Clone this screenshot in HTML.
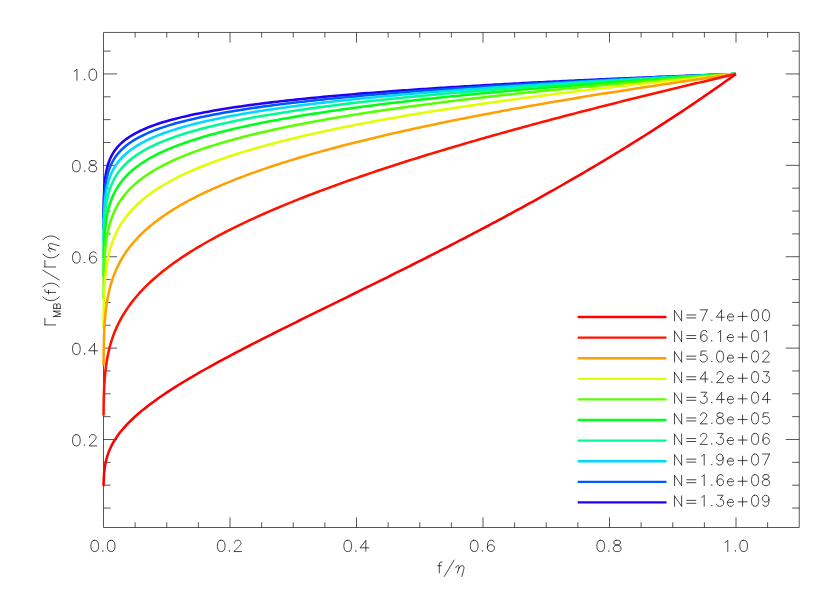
<!DOCTYPE html>
<html><head><meta charset="utf-8"><title>plot</title>
<style>html,body{margin:0;padding:0;background:#fff;font-family:"Liberation Sans",sans-serif;}svg{display:block}</style></head>
<body>
<svg width="830" height="593" viewBox="0 0 830 593">
<rect width="830" height="593" fill="#fff"/>
<path d="M103.50,32.45 H799.25 V527.50 H103.50 Z M135.12,527.50 v-5.20 M135.12,32.45 v5.20 M166.75,527.50 v-5.20 M166.75,32.45 v5.20 M198.38,527.50 v-5.20 M198.38,32.45 v5.20 M230.00,527.50 v-10.10 M230.00,32.45 v10.10 M261.62,527.50 v-5.20 M261.62,32.45 v5.20 M293.25,527.50 v-5.20 M293.25,32.45 v5.20 M324.88,527.50 v-5.20 M324.88,32.45 v5.20 M356.50,527.50 v-10.10 M356.50,32.45 v10.10 M388.12,527.50 v-5.20 M388.12,32.45 v5.20 M419.75,527.50 v-5.20 M419.75,32.45 v5.20 M451.38,527.50 v-5.20 M451.38,32.45 v5.20 M483.00,527.50 v-10.10 M483.00,32.45 v10.10 M514.62,527.50 v-5.20 M514.62,32.45 v5.20 M546.25,527.50 v-5.20 M546.25,32.45 v5.20 M577.88,527.50 v-5.20 M577.88,32.45 v5.20 M609.50,527.50 v-10.10 M609.50,32.45 v10.10 M641.12,527.50 v-5.20 M641.12,32.45 v5.20 M672.75,527.50 v-5.20 M672.75,32.45 v5.20 M704.38,527.50 v-5.20 M704.38,32.45 v5.20 M736.00,527.50 v-10.10 M736.00,32.45 v10.10 M767.62,527.50 v-5.20 M767.62,32.45 v5.20 M103.50,508.04 h7.10 M799.25,508.04 h-7.10 M103.50,485.20 h7.10 M799.25,485.20 h-7.10 M103.50,462.35 h7.10 M799.25,462.35 h-7.10 M103.50,439.50 h13.55 M799.25,439.50 h-13.55 M103.50,416.65 h7.10 M799.25,416.65 h-7.10 M103.50,393.81 h7.10 M799.25,393.81 h-7.10 M103.50,370.96 h7.10 M799.25,370.96 h-7.10 M103.50,348.11 h13.55 M799.25,348.11 h-13.55 M103.50,325.27 h7.10 M799.25,325.27 h-7.10 M103.50,302.42 h7.10 M799.25,302.42 h-7.10 M103.50,279.57 h7.10 M799.25,279.57 h-7.10 M103.50,256.73 h13.55 M799.25,256.73 h-13.55 M103.50,233.88 h7.10 M799.25,233.88 h-7.10 M103.50,211.03 h7.10 M799.25,211.03 h-7.10 M103.50,188.19 h7.10 M799.25,188.19 h-7.10 M103.50,165.34 h13.55 M799.25,165.34 h-13.55 M103.50,142.49 h7.10 M799.25,142.49 h-7.10 M103.50,119.64 h7.10 M799.25,119.64 h-7.10 M103.50,96.80 h7.10 M799.25,96.80 h-7.10 M103.50,73.95 h13.55 M799.25,73.95 h-13.55 M103.50,51.10 h7.10 M799.25,51.10 h-7.10" fill="none" stroke="#000" stroke-width="0.66" stroke-linecap="butt" stroke-linejoin="miter"/>
<path d="M94.18,540.31 L92.54,540.85 L91.44,542.45 L90.89,545.13 L90.89,546.73 L91.44,549.41 L92.54,551.01 L94.18,551.55 L95.28,551.55 L96.92,551.01 L98.02,549.41 L98.57,546.73 L98.57,545.13 L98.02,542.45 L96.92,540.85 L95.28,540.31 L94.18,540.31 M102.95,550.67 L102.59,551.03 L102.95,551.40 L103.31,551.03 L102.95,550.67 M110.62,540.31 L108.98,540.85 L107.88,542.45 L107.33,545.13 L107.33,546.73 L107.88,549.41 L108.98,551.01 L110.62,551.55 L111.72,551.55 L113.36,551.01 L114.46,549.41 L115.01,546.73 L115.01,545.13 L114.46,542.45 L113.36,540.85 L111.72,540.31 L110.62,540.31 M220.68,540.31 L219.04,540.85 L217.94,542.45 L217.39,545.13 L217.39,546.73 L217.94,549.41 L219.04,551.01 L220.68,551.55 L221.78,551.55 L223.42,551.01 L224.52,549.41 L225.07,546.73 L225.07,545.13 L224.52,542.45 L223.42,540.85 L221.78,540.31 L220.68,540.31 M229.45,550.67 L229.09,551.03 L229.45,551.40 L229.81,551.03 L229.45,550.67 M234.38,542.99 L234.38,542.45 L234.93,541.38 L235.48,540.85 L236.57,540.31 L238.77,540.31 L239.86,540.85 L240.41,541.38 L240.96,542.45 L240.96,543.52 L240.41,544.59 L239.31,546.20 L233.83,551.55 L241.51,551.55 M347.18,540.31 L345.54,540.85 L344.44,542.45 L343.89,545.13 L343.89,546.73 L344.44,549.41 L345.54,551.01 L347.18,551.55 L348.28,551.55 L349.92,551.01 L351.02,549.41 L351.57,546.73 L351.57,545.13 L351.02,542.45 L349.92,540.85 L348.28,540.31 L347.18,540.31 M355.95,550.67 L355.59,551.03 L355.95,551.40 L356.31,551.03 L355.95,550.67 M365.81,540.64 L360.06,547.80 L368.83,547.80 M365.81,540.64 L365.81,551.34 M473.68,540.31 L472.04,540.85 L470.94,542.45 L470.39,545.13 L470.39,546.73 L470.94,549.41 L472.04,551.01 L473.68,551.55 L474.78,551.55 L476.42,551.01 L477.52,549.41 L478.07,546.73 L478.07,545.13 L477.52,542.45 L476.42,540.85 L474.78,540.31 L473.68,540.31 M482.45,550.67 L482.09,551.03 L482.45,551.40 L482.81,551.03 L482.45,550.67 M493.96,541.92 L493.41,540.85 L491.77,540.31 L490.67,540.31 L489.03,540.85 L487.93,542.45 L487.38,545.13 L487.38,547.80 L487.93,549.94 L489.03,551.01 L490.67,551.55 L491.22,551.55 L492.86,551.01 L493.96,549.94 L494.51,548.34 L494.51,547.80 L493.96,546.20 L492.86,545.13 L491.22,544.59 L490.67,544.59 L489.03,545.13 L487.93,546.20 L487.38,547.80 M600.18,540.31 L598.54,540.85 L597.44,542.45 L596.89,545.13 L596.89,546.73 L597.44,549.41 L598.54,551.01 L600.18,551.55 L601.28,551.55 L602.92,551.01 L604.02,549.41 L604.57,546.73 L604.57,545.13 L604.02,542.45 L602.92,540.85 L601.28,540.31 L600.18,540.31 M608.95,550.67 L608.59,551.03 L608.95,551.40 L609.31,551.03 L608.95,550.67 M616.07,540.31 L614.43,540.85 L613.88,541.92 L613.88,542.99 L614.43,544.06 L615.53,544.59 L617.72,545.13 L619.36,545.66 L620.46,546.73 L621.01,547.80 L621.01,549.41 L620.46,550.48 L619.91,551.01 L618.27,551.55 L616.07,551.55 L614.43,551.01 L613.88,550.48 L613.33,549.41 L613.33,547.80 L613.88,546.73 L614.98,545.66 L616.62,545.13 L618.81,544.59 L619.91,544.06 L620.46,542.99 L620.46,541.92 L619.91,540.85 L618.27,540.31 L616.07,540.31 M725.04,542.45 L726.13,541.92 L727.78,540.31 L727.78,551.55 M735.45,550.67 L735.09,551.03 L735.45,551.40 L735.81,551.03 L735.45,550.67 M743.12,540.31 L741.48,540.85 L740.38,542.45 L739.83,545.13 L739.83,546.73 L740.38,549.41 L741.48,551.01 L743.12,551.55 L744.22,551.55 L745.86,551.01 L746.96,549.41 L747.51,546.73 L747.51,545.13 L746.96,542.45 L745.86,540.85 L744.22,540.31 L743.12,540.31 M75.83,434.67 L74.19,435.20 L73.09,436.81 L72.54,439.48 L72.54,441.09 L73.09,443.76 L74.19,445.37 L75.83,445.90 L76.93,445.90 L78.57,445.37 L79.67,443.76 L80.22,441.09 L80.22,439.48 L79.67,436.81 L78.57,435.20 L76.93,434.67 L75.83,434.67 M84.60,445.03 L84.24,445.39 L84.60,445.75 L84.96,445.39 L84.60,445.03 M89.53,437.34 L89.53,436.81 L90.08,435.74 L90.63,435.20 L91.72,434.67 L93.92,434.67 L95.01,435.20 L95.56,435.74 L96.11,436.81 L96.11,437.88 L95.56,438.95 L94.46,440.55 L88.98,445.90 L96.66,445.90 M75.83,343.28 L74.19,343.81 L73.09,345.42 L72.54,348.09 L72.54,349.70 L73.09,352.37 L74.19,353.98 L75.83,354.51 L76.93,354.51 L78.57,353.98 L79.67,352.37 L80.22,349.70 L80.22,348.09 L79.67,345.42 L78.57,343.81 L76.93,343.28 L75.83,343.28 M84.60,353.64 L84.24,354.00 L84.60,354.36 L84.96,354.00 L84.60,353.64 M94.46,343.60 L88.71,350.77 L97.48,350.77 M94.46,343.60 L94.46,354.30 M75.83,251.89 L74.19,252.43 L73.09,254.03 L72.54,256.71 L72.54,258.31 L73.09,260.99 L74.19,262.59 L75.83,263.13 L76.93,263.13 L78.57,262.59 L79.67,260.99 L80.22,258.31 L80.22,256.71 L79.67,254.03 L78.57,252.43 L76.93,251.89 L75.83,251.89 M84.60,262.25 L84.24,262.61 L84.60,262.97 L84.96,262.61 L84.60,262.25 M96.11,253.50 L95.56,252.43 L93.92,251.89 L92.82,251.89 L91.18,252.43 L90.08,254.03 L89.53,256.71 L89.53,259.38 L90.08,261.52 L91.18,262.59 L92.82,263.13 L93.37,263.13 L95.01,262.59 L96.11,261.52 L96.66,259.92 L96.66,259.38 L96.11,257.78 L95.01,256.71 L93.37,256.17 L92.82,256.17 L91.18,256.71 L90.08,257.78 L89.53,259.38 M75.83,160.50 L74.19,161.04 L73.09,162.64 L72.54,165.32 L72.54,166.92 L73.09,169.60 L74.19,171.20 L75.83,171.74 L76.93,171.74 L78.57,171.20 L79.67,169.60 L80.22,166.92 L80.22,165.32 L79.67,162.64 L78.57,161.04 L76.93,160.50 L75.83,160.50 M84.60,170.86 L84.24,171.22 L84.60,171.58 L84.96,171.22 L84.60,170.86 M91.72,160.50 L90.08,161.04 L89.53,162.11 L89.53,163.18 L90.08,164.25 L91.18,164.78 L93.37,165.32 L95.01,165.85 L96.11,166.92 L96.66,167.99 L96.66,169.60 L96.11,170.67 L95.56,171.20 L93.92,171.74 L91.72,171.74 L90.08,171.20 L89.53,170.67 L88.98,169.60 L88.98,167.99 L89.53,166.92 L90.63,165.85 L92.27,165.32 L94.46,164.78 L95.56,164.25 L96.11,163.18 L96.11,162.11 L95.56,161.04 L93.92,160.50 L91.72,160.50 M74.19,71.25 L75.28,70.72 L76.93,69.11 L76.93,80.35 M84.60,79.47 L84.24,79.83 L84.60,80.20 L84.96,79.83 L84.60,79.47 M92.27,69.11 L90.63,69.65 L89.53,71.25 L88.98,73.93 L88.98,75.53 L89.53,78.21 L90.63,79.81 L92.27,80.35 L93.37,80.35 L95.01,79.81 L96.11,78.21 L96.66,75.53 L96.66,73.93 L96.11,71.25 L95.01,69.65 L93.37,69.11 L92.27,69.11 M442.06,562.08 L440.96,562.08 L439.87,562.60 L439.32,564.14 L439.32,572.90 M437.68,565.69 L441.51,565.69 M454.12,560.02 L444.25,576.50 M455.76,567.75 L456.31,566.72 L457.40,565.69 L458.50,565.69 L459.05,566.20 L459.05,567.24 L458.50,569.29 L457.40,572.90 M458.50,569.29 L459.60,567.24 L460.69,566.20 L461.79,565.69 L462.88,565.69 L463.98,566.72 L463.98,568.26 L463.43,570.84 L461.79,576.50 M674.55,310.56 L674.55,320.85 M674.55,310.56 L681.62,320.85 M681.62,310.56 L681.62,320.85 M686.73,314.97 L695.82,314.97 M686.73,317.91 L695.82,317.91 M707.24,309.83 L702.19,320.85 M700.17,309.83 L707.24,309.83 M711.69,320.02 L711.36,320.36 L711.69,320.70 L712.02,320.36 L711.69,320.02 M721.60,310.14 L716.30,317.18 L724.38,317.18 M721.60,310.14 L721.60,320.64 M727.39,316.93 L733.45,316.93 L733.45,315.95 L732.95,314.97 L732.44,314.48 L731.43,313.99 L729.92,313.99 L728.91,314.48 L727.90,315.46 L727.39,316.93 L727.39,317.91 L727.90,319.38 L728.91,320.36 L729.92,320.85 L731.43,320.85 L732.44,320.36 L733.45,319.38 M742.60,312.03 L742.60,320.85 M738.05,316.44 L747.14,316.44 M754.53,309.83 L753.01,310.35 L752.00,311.93 L751.50,314.55 L751.50,316.12 L752.00,318.75 L753.01,320.33 L754.53,320.85 L755.54,320.85 L757.05,320.33 L758.06,318.75 L758.57,316.12 L758.57,314.55 L758.06,311.93 L757.05,310.35 L755.54,309.83 L754.53,309.83 M765.45,309.83 L763.93,310.35 L762.92,311.93 L762.42,314.55 L762.42,316.12 L762.92,318.75 L763.93,320.33 L765.45,320.85 L766.46,320.85 L767.97,320.33 L768.98,318.75 L769.49,316.12 L769.49,314.55 L768.98,311.93 L767.97,310.35 L766.46,309.83 L765.45,309.83 M674.55,331.16 L674.55,341.45 M674.55,331.16 L681.62,341.45 M681.62,331.16 L681.62,341.45 M686.73,335.57 L695.82,335.57 M686.73,338.51 L695.82,338.51 M706.74,332.00 L706.23,330.95 L704.72,330.43 L703.71,330.43 L702.19,330.95 L701.18,332.53 L700.68,335.15 L700.68,337.78 L701.18,339.88 L702.19,340.93 L703.71,341.45 L704.21,341.45 L705.73,340.93 L706.74,339.88 L707.24,338.30 L707.24,337.78 L706.74,336.20 L705.73,335.15 L704.21,334.63 L703.71,334.63 L702.19,335.15 L701.18,336.20 L700.68,337.78 M711.69,340.62 L711.36,340.96 L711.69,341.30 L712.02,340.96 L711.69,340.62 M718.07,332.53 L719.08,332.00 L720.59,330.43 L720.59,341.45 M727.39,337.53 L733.45,337.53 L733.45,336.55 L732.95,335.57 L732.44,335.08 L731.43,334.59 L729.92,334.59 L728.91,335.08 L727.90,336.06 L727.39,337.53 L727.39,338.51 L727.90,339.98 L728.91,340.96 L729.92,341.45 L731.43,341.45 L732.44,340.96 L733.45,339.98 M742.60,332.63 L742.60,341.45 M738.05,337.04 L747.14,337.04 M754.53,330.43 L753.01,330.95 L752.00,332.53 L751.50,335.15 L751.50,336.73 L752.00,339.35 L753.01,340.93 L754.53,341.45 L755.54,341.45 L757.05,340.93 L758.06,339.35 L758.57,336.73 L758.57,335.15 L758.06,332.53 L757.05,330.95 L755.54,330.43 L754.53,330.43 M763.93,332.53 L764.94,332.00 L766.46,330.43 L766.46,341.45 M674.55,351.76 L674.55,362.05 M674.55,351.76 L681.62,362.05 M681.62,351.76 L681.62,362.05 M686.73,356.17 L695.82,356.17 M686.73,359.11 L695.82,359.11 M706.23,351.03 L701.18,351.03 L700.68,355.75 L701.18,355.23 L702.70,354.70 L704.21,354.70 L705.73,355.23 L706.74,356.28 L707.24,357.85 L707.24,358.90 L706.74,360.48 L705.73,361.53 L704.21,362.05 L702.70,362.05 L701.18,361.53 L700.68,361.00 L700.17,359.95 M711.69,361.22 L711.36,361.56 L711.69,361.90 L712.02,361.56 L711.69,361.22 M719.58,351.03 L718.07,351.55 L717.06,353.12 L716.55,355.75 L716.55,357.32 L717.06,359.95 L718.07,361.53 L719.58,362.05 L720.59,362.05 L722.11,361.53 L723.12,359.95 L723.62,357.32 L723.62,355.75 L723.12,353.12 L722.11,351.55 L720.59,351.03 L719.58,351.03 M727.39,358.13 L733.45,358.13 L733.45,357.15 L732.95,356.17 L732.44,355.68 L731.43,355.19 L729.92,355.19 L728.91,355.68 L727.90,356.66 L727.39,358.13 L727.39,359.11 L727.90,360.58 L728.91,361.56 L729.92,362.05 L731.43,362.05 L732.44,361.56 L733.45,360.58 M742.60,353.23 L742.60,362.05 M738.05,357.64 L747.14,357.64 M754.53,351.03 L753.01,351.55 L752.00,353.12 L751.50,355.75 L751.50,357.32 L752.00,359.95 L753.01,361.53 L754.53,362.05 L755.54,362.05 L757.05,361.53 L758.06,359.95 L758.57,357.32 L758.57,355.75 L758.06,353.12 L757.05,351.55 L755.54,351.03 L754.53,351.03 M762.92,353.65 L762.92,353.12 L763.43,352.07 L763.93,351.55 L764.94,351.03 L766.96,351.03 L767.97,351.55 L768.48,352.07 L768.98,353.12 L768.98,354.18 L768.48,355.23 L767.47,356.80 L762.42,362.05 L769.49,362.05 M674.55,372.36 L674.55,382.65 M674.55,372.36 L681.62,382.65 M681.62,372.36 L681.62,382.65 M686.73,376.77 L695.82,376.77 M686.73,379.71 L695.82,379.71 M705.22,371.94 L699.92,378.98 L708.00,378.98 M705.22,371.94 L705.22,382.44 M711.69,381.82 L711.36,382.16 L711.69,382.50 L712.02,382.16 L711.69,381.82 M717.06,374.25 L717.06,373.73 L717.56,372.68 L718.07,372.15 L719.08,371.63 L721.10,371.63 L722.11,372.15 L722.61,372.68 L723.12,373.73 L723.12,374.78 L722.61,375.83 L721.60,377.40 L716.55,382.65 L723.62,382.65 M727.39,378.73 L733.45,378.73 L733.45,377.75 L732.95,376.77 L732.44,376.28 L731.43,375.79 L729.92,375.79 L728.91,376.28 L727.90,377.26 L727.39,378.73 L727.39,379.71 L727.90,381.18 L728.91,382.16 L729.92,382.65 L731.43,382.65 L732.44,382.16 L733.45,381.18 M742.60,373.83 L742.60,382.65 M738.05,378.24 L747.14,378.24 M754.53,371.63 L753.01,372.15 L752.00,373.73 L751.50,376.35 L751.50,377.93 L752.00,380.55 L753.01,382.13 L754.53,382.65 L755.54,382.65 L757.05,382.13 L758.06,380.55 L758.57,377.93 L758.57,376.35 L758.06,373.73 L757.05,372.15 L755.54,371.63 L754.53,371.63 M763.43,371.63 L768.98,371.63 L765.95,375.83 L767.47,375.83 L768.48,376.35 L768.98,376.88 L769.49,378.45 L769.49,379.50 L768.98,381.08 L767.97,382.13 L766.46,382.65 L764.94,382.65 L763.43,382.13 L762.92,381.60 L762.42,380.55 M674.55,392.96 L674.55,403.25 M674.55,392.96 L681.62,403.25 M681.62,392.96 L681.62,403.25 M686.73,397.37 L695.82,397.37 M686.73,400.31 L695.82,400.31 M701.18,392.23 L706.74,392.23 L703.71,396.43 L705.22,396.43 L706.23,396.95 L706.74,397.48 L707.24,399.05 L707.24,400.10 L706.74,401.68 L705.73,402.73 L704.21,403.25 L702.70,403.25 L701.18,402.73 L700.68,402.20 L700.17,401.15 M711.69,402.42 L711.36,402.76 L711.69,403.10 L712.02,402.76 L711.69,402.42 M721.60,392.54 L716.30,399.57 L724.38,399.57 M721.60,392.54 L721.60,403.04 M727.39,399.33 L733.45,399.33 L733.45,398.35 L732.95,397.37 L732.44,396.88 L731.43,396.39 L729.92,396.39 L728.91,396.88 L727.90,397.86 L727.39,399.33 L727.39,400.31 L727.90,401.78 L728.91,402.76 L729.92,403.25 L731.43,403.25 L732.44,402.76 L733.45,401.78 M742.60,394.43 L742.60,403.25 M738.05,398.84 L747.14,398.84 M754.53,392.23 L753.01,392.75 L752.00,394.32 L751.50,396.95 L751.50,398.52 L752.00,401.15 L753.01,402.73 L754.53,403.25 L755.54,403.25 L757.05,402.73 L758.06,401.15 L758.57,398.52 L758.57,396.95 L758.06,394.32 L757.05,392.75 L755.54,392.23 L754.53,392.23 M767.47,392.54 L762.16,399.57 L770.24,399.57 M767.47,392.54 L767.47,403.04 M674.55,413.56 L674.55,423.85 M674.55,413.56 L681.62,423.85 M681.62,413.56 L681.62,423.85 M686.73,417.97 L695.82,417.97 M686.73,420.91 L695.82,420.91 M700.68,415.45 L700.68,414.93 L701.18,413.88 L701.69,413.35 L702.70,412.83 L704.72,412.83 L705.73,413.35 L706.23,413.88 L706.74,414.93 L706.74,415.98 L706.23,417.03 L705.22,418.60 L700.17,423.85 L707.24,423.85 M711.69,423.02 L711.36,423.36 L711.69,423.70 L712.02,423.36 L711.69,423.02 M719.08,412.83 L717.56,413.35 L717.06,414.40 L717.06,415.45 L717.56,416.50 L718.57,417.03 L720.59,417.55 L722.11,418.08 L723.12,419.12 L723.62,420.18 L723.62,421.75 L723.12,422.80 L722.61,423.33 L721.10,423.85 L719.08,423.85 L717.56,423.33 L717.06,422.80 L716.55,421.75 L716.55,420.18 L717.06,419.12 L718.07,418.08 L719.58,417.55 L721.60,417.03 L722.61,416.50 L723.12,415.45 L723.12,414.40 L722.61,413.35 L721.10,412.83 L719.08,412.83 M727.39,419.93 L733.45,419.93 L733.45,418.95 L732.95,417.97 L732.44,417.48 L731.43,416.99 L729.92,416.99 L728.91,417.48 L727.90,418.46 L727.39,419.93 L727.39,420.91 L727.90,422.38 L728.91,423.36 L729.92,423.85 L731.43,423.85 L732.44,423.36 L733.45,422.38 M742.60,415.03 L742.60,423.85 M738.05,419.44 L747.14,419.44 M754.53,412.83 L753.01,413.35 L752.00,414.93 L751.50,417.55 L751.50,419.12 L752.00,421.75 L753.01,423.33 L754.53,423.85 L755.54,423.85 L757.05,423.33 L758.06,421.75 L758.57,419.12 L758.57,417.55 L758.06,414.93 L757.05,413.35 L755.54,412.83 L754.53,412.83 M768.48,412.83 L763.43,412.83 L762.92,417.55 L763.43,417.03 L764.94,416.50 L766.46,416.50 L767.97,417.03 L768.98,418.08 L769.49,419.65 L769.49,420.70 L768.98,422.28 L767.97,423.33 L766.46,423.85 L764.94,423.85 L763.43,423.33 L762.92,422.80 L762.42,421.75 M674.55,434.16 L674.55,444.45 M674.55,434.16 L681.62,444.45 M681.62,434.16 L681.62,444.45 M686.73,438.57 L695.82,438.57 M686.73,441.51 L695.82,441.51 M700.68,436.05 L700.68,435.53 L701.18,434.48 L701.69,433.95 L702.70,433.43 L704.72,433.43 L705.73,433.95 L706.23,434.48 L706.74,435.53 L706.74,436.58 L706.23,437.63 L705.22,439.20 L700.17,444.45 L707.24,444.45 M711.69,443.62 L711.36,443.96 L711.69,444.30 L712.02,443.96 L711.69,443.62 M717.56,433.43 L723.12,433.43 L720.09,437.63 L721.60,437.63 L722.61,438.15 L723.12,438.68 L723.62,440.25 L723.62,441.30 L723.12,442.88 L722.11,443.93 L720.59,444.45 L719.08,444.45 L717.56,443.93 L717.06,443.40 L716.55,442.35 M727.39,440.53 L733.45,440.53 L733.45,439.55 L732.95,438.57 L732.44,438.08 L731.43,437.59 L729.92,437.59 L728.91,438.08 L727.90,439.06 L727.39,440.53 L727.39,441.51 L727.90,442.98 L728.91,443.96 L729.92,444.45 L731.43,444.45 L732.44,443.96 L733.45,442.98 M742.60,435.63 L742.60,444.45 M738.05,440.04 L747.14,440.04 M754.53,433.43 L753.01,433.95 L752.00,435.53 L751.50,438.15 L751.50,439.73 L752.00,442.35 L753.01,443.93 L754.53,444.45 L755.54,444.45 L757.05,443.93 L758.06,442.35 L758.57,439.73 L758.57,438.15 L758.06,435.53 L757.05,433.95 L755.54,433.43 L754.53,433.43 M768.98,435.00 L768.48,433.95 L766.96,433.43 L765.95,433.43 L764.44,433.95 L763.43,435.53 L762.92,438.15 L762.92,440.78 L763.43,442.88 L764.44,443.93 L765.95,444.45 L766.46,444.45 L767.97,443.93 L768.98,442.88 L769.49,441.30 L769.49,440.78 L768.98,439.20 L767.97,438.15 L766.46,437.63 L765.95,437.63 L764.44,438.15 L763.43,439.20 L762.92,440.78 M674.55,454.76 L674.55,465.05 M674.55,454.76 L681.62,465.05 M681.62,454.76 L681.62,465.05 M686.73,459.17 L695.82,459.17 M686.73,462.11 L695.82,462.11 M701.69,456.13 L702.70,455.60 L704.21,454.03 L704.21,465.05 M711.69,464.22 L711.36,464.56 L711.69,464.90 L712.02,464.56 L711.69,464.22 M723.12,457.70 L722.61,459.28 L721.60,460.33 L720.09,460.85 L719.58,460.85 L718.07,460.33 L717.06,459.28 L716.55,457.70 L716.55,457.18 L717.06,455.60 L718.07,454.55 L719.58,454.03 L720.09,454.03 L721.60,454.55 L722.61,455.60 L723.12,457.70 L723.12,460.33 L722.61,462.95 L721.60,464.53 L720.09,465.05 L719.08,465.05 L717.56,464.53 L717.06,463.48 M727.39,461.13 L733.45,461.13 L733.45,460.15 L732.95,459.17 L732.44,458.68 L731.43,458.19 L729.92,458.19 L728.91,458.68 L727.90,459.66 L727.39,461.13 L727.39,462.11 L727.90,463.58 L728.91,464.56 L729.92,465.05 L731.43,465.05 L732.44,464.56 L733.45,463.58 M742.60,456.23 L742.60,465.05 M738.05,460.64 L747.14,460.64 M754.53,454.03 L753.01,454.55 L752.00,456.13 L751.50,458.75 L751.50,460.33 L752.00,462.95 L753.01,464.53 L754.53,465.05 L755.54,465.05 L757.05,464.53 L758.06,462.95 L758.57,460.33 L758.57,458.75 L758.06,456.13 L757.05,454.55 L755.54,454.03 L754.53,454.03 M769.49,454.03 L764.44,465.05 M762.42,454.03 L769.49,454.03 M674.55,475.36 L674.55,485.65 M674.55,475.36 L681.62,485.65 M681.62,475.36 L681.62,485.65 M686.73,479.77 L695.82,479.77 M686.73,482.71 L695.82,482.71 M701.69,476.73 L702.70,476.20 L704.21,474.63 L704.21,485.65 M711.69,484.82 L711.36,485.16 L711.69,485.50 L712.02,485.16 L711.69,484.82 M723.12,476.20 L722.61,475.15 L721.10,474.63 L720.09,474.63 L718.57,475.15 L717.56,476.73 L717.06,479.35 L717.06,481.98 L717.56,484.08 L718.57,485.13 L720.09,485.65 L720.59,485.65 L722.11,485.13 L723.12,484.08 L723.62,482.50 L723.62,481.98 L723.12,480.40 L722.11,479.35 L720.59,478.83 L720.09,478.83 L718.57,479.35 L717.56,480.40 L717.06,481.98 M727.39,481.73 L733.45,481.73 L733.45,480.75 L732.95,479.77 L732.44,479.28 L731.43,478.79 L729.92,478.79 L728.91,479.28 L727.90,480.26 L727.39,481.73 L727.39,482.71 L727.90,484.18 L728.91,485.16 L729.92,485.65 L731.43,485.65 L732.44,485.16 L733.45,484.18 M742.60,476.83 L742.60,485.65 M738.05,481.24 L747.14,481.24 M754.53,474.63 L753.01,475.15 L752.00,476.73 L751.50,479.35 L751.50,480.93 L752.00,483.55 L753.01,485.13 L754.53,485.65 L755.54,485.65 L757.05,485.13 L758.06,483.55 L758.57,480.93 L758.57,479.35 L758.06,476.73 L757.05,475.15 L755.54,474.63 L754.53,474.63 M764.94,474.63 L763.43,475.15 L762.92,476.20 L762.92,477.25 L763.43,478.30 L764.44,478.83 L766.46,479.35 L767.97,479.88 L768.98,480.93 L769.49,481.98 L769.49,483.55 L768.98,484.60 L768.48,485.13 L766.96,485.65 L764.94,485.65 L763.43,485.13 L762.92,484.60 L762.42,483.55 L762.42,481.98 L762.92,480.93 L763.93,479.88 L765.45,479.35 L767.47,478.83 L768.48,478.30 L768.98,477.25 L768.98,476.20 L768.48,475.15 L766.96,474.63 L764.94,474.63 M674.55,495.96 L674.55,506.25 M674.55,495.96 L681.62,506.25 M681.62,495.96 L681.62,506.25 M686.73,500.37 L695.82,500.37 M686.73,503.31 L695.82,503.31 M701.69,497.32 L702.70,496.80 L704.21,495.23 L704.21,506.25 M711.69,505.42 L711.36,505.76 L711.69,506.10 L712.02,505.76 L711.69,505.42 M717.56,495.23 L723.12,495.23 L720.09,499.43 L721.60,499.43 L722.61,499.95 L723.12,500.48 L723.62,502.05 L723.62,503.10 L723.12,504.68 L722.11,505.73 L720.59,506.25 L719.08,506.25 L717.56,505.73 L717.06,505.20 L716.55,504.15 M727.39,502.33 L733.45,502.33 L733.45,501.35 L732.95,500.37 L732.44,499.88 L731.43,499.39 L729.92,499.39 L728.91,499.88 L727.90,500.86 L727.39,502.33 L727.39,503.31 L727.90,504.78 L728.91,505.76 L729.92,506.25 L731.43,506.25 L732.44,505.76 L733.45,504.78 M742.60,497.43 L742.60,506.25 M738.05,501.84 L747.14,501.84 M754.53,495.23 L753.01,495.75 L752.00,497.32 L751.50,499.95 L751.50,501.52 L752.00,504.15 L753.01,505.73 L754.53,506.25 L755.54,506.25 L757.05,505.73 L758.06,504.15 L758.57,501.52 L758.57,499.95 L758.06,497.32 L757.05,495.75 L755.54,495.23 L754.53,495.23 M768.98,498.90 L768.48,500.48 L767.47,501.52 L765.95,502.05 L765.45,502.05 L763.93,501.52 L762.92,500.48 L762.42,498.90 L762.42,498.38 L762.92,496.80 L763.93,495.75 L765.45,495.23 L765.95,495.23 L767.47,495.75 L768.48,496.80 L768.98,498.90 L768.98,501.52 L768.48,504.15 L767.47,505.73 L765.95,506.25 L764.94,506.25 L763.43,505.73 L762.92,504.68" fill="none" stroke="#000" stroke-width="0.72" stroke-linecap="round" stroke-linejoin="round"/>
<path transform="translate(55.7,280.48) rotate(-90)" d="M-44.42,-10.81 L-44.42,0.00 M-44.42,-10.81 L-37.91,-10.81 M-36.03,-2.11 L-36.03,4.60 M-36.03,-2.11 L-33.34,4.60 M-30.65,-2.11 L-33.34,4.60 M-30.65,-2.11 L-30.65,4.60 M-27.96,-2.11 L-27.96,4.60 M-27.96,-2.11 L-24.94,-2.11 L-23.93,-1.79 L-23.59,-1.47 L-23.26,-0.83 L-23.26,-0.19 L-23.59,0.45 L-23.93,0.77 L-24.94,1.09 M-27.96,1.09 L-24.94,1.09 L-23.93,1.41 L-23.59,1.73 L-23.26,2.36 L-23.26,3.32 L-23.59,3.96 L-23.93,4.28 L-24.94,4.60 L-27.96,4.60 M-16.29,-12.88 L-17.37,-11.85 L-18.46,-10.30 L-19.54,-8.24 L-20.08,-5.67 L-20.08,-3.60 L-19.54,-1.03 L-18.46,1.03 L-17.37,2.58 L-16.29,3.60 M-9.24,-10.81 L-10.33,-10.81 L-11.41,-10.30 L-11.95,-8.76 L-11.95,0.00 M-13.58,-7.21 L-9.78,-7.21 M-6.53,-12.88 L-5.45,-11.85 L-4.36,-10.30 L-3.28,-8.24 L-2.74,-5.67 L-2.74,-3.60 L-3.28,-1.03 L-4.36,1.03 L-5.45,2.58 L-6.53,3.60 M10.27,-12.88 L0.51,3.60 M13.52,-10.81 L13.52,0.00 M13.52,-10.81 L20.03,-10.81 M26.53,-12.88 L25.45,-11.85 L24.36,-10.30 L23.28,-8.24 L22.74,-5.67 L22.74,-3.60 L23.28,-1.03 L24.36,1.03 L25.45,2.58 L26.53,3.60 M28.70,-5.15 L29.24,-6.18 L30.32,-7.21 L31.41,-7.21 L31.95,-6.70 L31.95,-5.67 L31.41,-3.60 L30.32,0.00 M31.41,-3.60 L32.49,-5.67 L33.58,-6.70 L34.66,-7.21 L35.74,-7.21 L36.83,-6.18 L36.83,-4.63 L36.29,-2.06 L34.66,3.60 M40.62,-12.88 L41.71,-11.85 L42.79,-10.30 L43.87,-8.24 L44.42,-5.67 L44.42,-3.60 L43.87,-1.03 L42.79,1.03 L41.71,2.58 L40.62,3.60" fill="none" stroke="#000" stroke-width="0.72" stroke-linecap="round" stroke-linejoin="round"/>
<g fill="none" stroke-width="2.55" stroke-linejoin="round" stroke-linecap="butt">
<polyline stroke="#2400f0" points="103.56,218.03 103.57,217.25 103.57,216.46 103.58,215.67 103.58,214.87 103.59,214.08 103.60,213.27 103.61,212.47 103.61,211.66 103.62,210.84 103.63,210.02 103.64,209.20 103.65,208.37 103.66,207.54 103.68,206.71 103.69,205.87 103.70,205.02 103.72,204.17 103.73,203.32 103.75,202.46 103.77,201.60 103.79,200.73 103.81,199.86 103.84,198.99 103.86,198.10 103.89,197.22 103.92,196.33 103.95,195.43 103.99,194.53 104.02,193.63 104.06,192.72 104.11,191.81 104.15,190.89 104.20,189.96 104.25,189.03 104.31,188.10 104.37,187.16 104.44,186.22 104.51,185.27 104.58,184.31 104.67,183.35 104.75,182.38 104.85,181.41 104.95,180.44 105.06,179.45 105.18,178.47 105.31,177.47 105.44,176.48 105.59,175.47 105.75,174.46 105.92,173.44 106.10,172.42 106.30,171.40 106.51,170.36 106.74,169.32 106.98,168.28 107.24,167.23 107.53,166.17 107.83,165.11 108.16,164.04 108.51,162.96 108.89,161.88 109.30,160.79 109.73,159.69 110.20,158.59 110.71,157.48 111.26,156.37 111.84,155.24 112.47,154.12 113.15,152.98 113.88,151.84 114.67,150.69 115.51,149.53 116.42,148.37 117.39,147.20 118.44,146.02 119.57,144.84 120.79,143.65 122.10,142.45 123.50,141.24 126.58,138.85 129.66,136.73 132.74,134.83 135.81,133.10 138.89,131.52 141.97,130.06 145.05,128.70 148.12,127.44 151.20,126.24 154.28,125.12 157.36,124.06 160.44,123.05 163.51,122.09 166.59,121.17 169.67,120.30 172.75,119.45 175.83,118.65 178.90,117.87 181.98,117.12 185.06,116.40 188.14,115.70 191.21,115.03 194.29,114.37 197.37,113.74 200.45,113.13 203.53,112.53 206.60,111.95 209.68,111.38 212.76,110.83 215.84,110.29 218.92,109.77 221.99,109.26 225.07,108.76 228.15,108.27 231.23,107.79 234.31,107.33 237.38,106.87 240.46,106.42 243.54,105.98 246.62,105.55 249.69,105.13 252.77,104.72 255.85,104.31 258.93,103.91 262.01,103.52 265.08,103.14 268.16,102.76 271.24,102.39 274.32,102.02 277.40,101.66 280.47,101.31 283.55,100.96 286.63,100.62 289.71,100.28 292.78,99.95 295.86,99.62 298.94,99.29 302.02,98.98 305.10,98.66 308.17,98.35 311.25,98.05 314.33,97.74 317.41,97.45 320.49,97.15 323.56,96.86 326.64,96.58 329.72,96.29 332.80,96.01 335.88,95.74 338.95,95.46 342.03,95.19 345.11,94.93 348.19,94.66 351.26,94.40 354.34,94.15 357.42,93.89 360.50,93.64 363.58,93.39 366.65,93.14 369.73,92.90 372.81,92.66 375.89,92.42 378.97,92.18 382.04,91.95 385.12,91.72 388.20,91.49 391.28,91.26 394.36,91.04 397.43,90.81 400.51,90.59 403.59,90.37 406.67,90.16 409.74,89.94 412.82,89.73 415.90,89.52 418.98,89.31 422.06,89.10 425.13,88.90 428.21,88.69 431.29,88.49 434.37,88.29 437.45,88.09 440.52,87.89 443.60,87.70 446.68,87.50 449.76,87.31 452.83,87.12 455.91,86.93 458.99,86.75 462.07,86.56 465.15,86.37 468.22,86.19 471.30,86.01 474.38,85.83 477.46,85.65 480.54,85.47 483.61,85.30 486.69,85.12 489.77,84.95 492.85,84.77 495.93,84.60 499.00,84.43 502.08,84.26 505.16,84.09 508.24,83.93 511.31,83.76 514.39,83.60 517.47,83.43 520.55,83.27 523.63,83.11 526.70,82.95 529.78,82.79 532.86,82.63 535.94,82.48 539.02,82.32 542.09,82.16 545.17,82.01 548.25,81.86 551.33,81.70 554.40,81.55 557.48,81.40 560.56,81.25 563.64,81.11 566.72,80.96 569.79,80.81 572.87,80.66 575.95,80.52 579.03,80.38 582.11,80.23 585.18,80.09 588.26,79.95 591.34,79.81 594.42,79.67 597.50,79.53 600.57,79.39 603.65,79.25 606.73,79.11 609.81,78.98 612.88,78.84 615.96,78.71 619.04,78.57 622.12,78.44 625.20,78.31 628.27,78.18 631.35,78.05 634.43,77.91 637.51,77.78 640.59,77.66 643.66,77.53 646.74,77.40 649.82,77.27 652.90,77.15 655.98,77.02 659.05,76.89 662.13,76.77 665.21,76.65 668.29,76.52 671.36,76.40 674.44,76.28 677.52,76.16 680.60,76.03 683.68,75.91 686.75,75.79 689.83,75.68 692.91,75.56 695.99,75.44 699.07,75.32 702.14,75.20 705.22,75.09 708.30,74.97 711.38,74.86 714.45,74.74 717.53,74.63 720.61,74.51 723.69,74.40 726.77,74.29 729.84,74.17 732.92,74.06 736.00,73.95"/>
<polyline stroke="#0058ff" points="103.56,229.25 103.57,228.44 103.57,227.62 103.58,226.80 103.58,225.97 103.59,225.14 103.60,224.31 103.61,223.47 103.61,222.62 103.62,221.77 103.63,220.92 103.64,220.06 103.65,219.19 103.66,218.33 103.68,217.45 103.69,216.57 103.70,215.69 103.72,214.80 103.73,213.91 103.75,213.01 103.77,212.11 103.79,211.20 103.81,210.29 103.84,209.37 103.86,208.44 103.89,207.51 103.92,206.58 103.95,205.64 103.99,204.69 104.02,203.74 104.06,202.79 104.11,201.82 104.15,200.85 104.20,199.88 104.25,198.90 104.31,197.92 104.37,196.92 104.44,195.93 104.51,194.92 104.58,193.91 104.67,192.90 104.75,191.88 104.85,190.85 104.95,189.82 105.06,188.78 105.18,187.73 105.31,186.68 105.44,185.62 105.59,184.55 105.75,183.48 105.92,182.40 106.10,181.31 106.30,180.22 106.51,179.12 106.74,178.02 106.98,176.90 107.24,175.78 107.53,174.65 107.83,173.52 108.16,172.38 108.51,171.23 108.89,170.07 109.30,168.91 109.73,167.73 110.20,166.55 110.71,165.37 111.26,164.17 111.84,162.97 112.47,161.76 113.15,160.54 113.88,159.31 114.67,158.08 115.51,156.84 116.42,155.58 117.39,154.32 118.44,153.06 119.57,151.78 120.79,150.49 122.10,149.20 123.50,147.90 126.58,145.31 129.66,143.02 132.74,140.96 135.81,139.09 138.89,137.37 141.97,135.79 145.05,134.31 148.12,132.93 151.20,131.64 154.28,130.41 157.36,129.26 160.44,128.16 163.51,127.11 166.59,126.11 169.67,125.15 172.75,124.23 175.83,123.35 178.90,122.50 181.98,121.69 185.06,120.90 188.14,120.13 191.21,119.39 194.29,118.68 197.37,117.98 200.45,117.31 203.53,116.66 206.60,116.02 209.68,115.40 212.76,114.79 215.84,114.20 218.92,113.63 221.99,113.07 225.07,112.52 228.15,111.98 231.23,111.46 234.31,110.95 237.38,110.44 240.46,109.95 243.54,109.47 246.62,109.00 249.69,108.53 252.77,108.08 255.85,107.63 258.93,107.19 262.01,106.76 265.08,106.34 268.16,105.92 271.24,105.51 274.32,105.11 277.40,104.71 280.47,104.32 283.55,103.94 286.63,103.56 289.71,103.19 292.78,102.82 295.86,102.46 298.94,102.10 302.02,101.75 305.10,101.40 308.17,101.06 311.25,100.72 314.33,100.39 317.41,100.06 320.49,99.74 323.56,99.41 326.64,99.10 329.72,98.79 332.80,98.48 335.88,98.17 338.95,97.87 342.03,97.57 345.11,97.28 348.19,96.99 351.26,96.70 354.34,96.41 357.42,96.13 360.50,95.85 363.58,95.58 366.65,95.30 369.73,95.03 372.81,94.77 375.89,94.50 378.97,94.24 382.04,93.98 385.12,93.72 388.20,93.47 391.28,93.22 394.36,92.97 397.43,92.72 400.51,92.48 403.59,92.23 406.67,91.99 409.74,91.75 412.82,91.52 415.90,91.28 418.98,91.05 422.06,90.82 425.13,90.59 428.21,90.37 431.29,90.14 434.37,89.92 437.45,89.70 440.52,89.48 443.60,89.27 446.68,89.05 449.76,88.84 452.83,88.63 455.91,88.42 458.99,88.21 462.07,88.00 465.15,87.80 468.22,87.59 471.30,87.39 474.38,87.19 477.46,86.99 480.54,86.79 483.61,86.60 486.69,86.40 489.77,86.21 492.85,86.02 495.93,85.83 499.00,85.64 502.08,85.45 505.16,85.26 508.24,85.08 511.31,84.89 514.39,84.71 517.47,84.53 520.55,84.35 523.63,84.17 526.70,83.99 529.78,83.81 532.86,83.64 535.94,83.46 539.02,83.29 542.09,83.11 545.17,82.94 548.25,82.77 551.33,82.60 554.40,82.43 557.48,82.27 560.56,82.10 563.64,81.93 566.72,81.77 569.79,81.61 572.87,81.44 575.95,81.28 579.03,81.12 582.11,80.96 585.18,80.80 588.26,80.65 591.34,80.49 594.42,80.33 597.50,80.18 600.57,80.02 603.65,79.87 606.73,79.72 609.81,79.56 612.88,79.41 615.96,79.26 619.04,79.11 622.12,78.96 625.20,78.82 628.27,78.67 631.35,78.52 634.43,78.38 637.51,78.23 640.59,78.09 643.66,77.95 646.74,77.80 649.82,77.66 652.90,77.52 655.98,77.38 659.05,77.24 662.13,77.10 665.21,76.96 668.29,76.82 671.36,76.69 674.44,76.55 677.52,76.41 680.60,76.28 683.68,76.15 686.75,76.01 689.83,75.88 692.91,75.75 695.99,75.61 699.07,75.48 702.14,75.35 705.22,75.22 708.30,75.09 711.38,74.96 714.45,74.83 717.53,74.71 720.61,74.58 723.69,74.45 726.77,74.33 729.84,74.20 732.92,74.07 736.00,73.95"/>
<polyline stroke="#00d8ff" points="103.56,242.37 103.57,241.53 103.57,240.68 103.58,239.83 103.58,238.97 103.59,238.10 103.60,237.24 103.61,236.36 103.61,235.48 103.62,234.60 103.63,233.71 103.64,232.81 103.65,231.91 103.66,231.00 103.68,230.09 103.69,229.18 103.70,228.25 103.72,227.32 103.73,226.39 103.75,225.45 103.77,224.50 103.79,223.55 103.81,222.59 103.84,221.63 103.86,220.66 103.89,219.69 103.92,218.70 103.95,217.72 103.99,216.72 104.02,215.72 104.06,214.71 104.11,213.70 104.15,212.68 104.20,211.65 104.25,210.62 104.31,209.58 104.37,208.53 104.44,207.48 104.51,206.42 104.58,205.35 104.67,204.28 104.75,203.19 104.85,202.11 104.95,201.01 105.06,199.91 105.18,198.79 105.31,197.68 105.44,196.55 105.59,195.42 105.75,194.28 105.92,193.13 106.10,191.97 106.30,190.80 106.51,189.63 106.74,188.45 106.98,187.26 107.24,186.06 107.53,184.86 107.83,183.64 108.16,182.42 108.51,181.19 108.89,179.95 109.30,178.70 109.73,177.44 110.20,176.17 110.71,174.90 111.26,173.61 111.84,172.32 112.47,171.01 113.15,169.70 113.88,168.38 114.67,167.04 115.51,165.70 116.42,164.35 117.39,162.98 118.44,161.61 119.57,160.23 120.79,158.83 122.10,157.43 123.50,156.01 126.58,153.20 129.66,150.71 132.74,148.47 135.81,146.42 138.89,144.55 141.97,142.82 145.05,141.20 148.12,139.69 151.20,138.27 154.28,136.93 157.36,135.66 160.44,134.45 163.51,133.30 166.59,132.20 169.67,131.14 172.75,130.13 175.83,129.16 178.90,128.23 181.98,127.33 185.06,126.46 188.14,125.61 191.21,124.80 194.29,124.01 197.37,123.24 200.45,122.50 203.53,121.77 206.60,121.07 209.68,120.38 212.76,119.71 215.84,119.06 218.92,118.42 221.99,117.80 225.07,117.19 228.15,116.60 231.23,116.02 234.31,115.45 237.38,114.89 240.46,114.34 243.54,113.81 246.62,113.28 249.69,112.77 252.77,112.26 255.85,111.76 258.93,111.28 262.01,110.80 265.08,110.33 268.16,109.86 271.24,109.41 274.32,108.96 277.40,108.52 280.47,108.08 283.55,107.65 286.63,107.23 289.71,106.82 292.78,106.41 295.86,106.00 298.94,105.61 302.02,105.21 305.10,104.83 308.17,104.44 311.25,104.07 314.33,103.70 317.41,103.33 320.49,102.97 323.56,102.61 326.64,102.25 329.72,101.91 332.80,101.56 335.88,101.22 338.95,100.88 342.03,100.55 345.11,100.22 348.19,99.89 351.26,99.57 354.34,99.25 357.42,98.94 360.50,98.62 363.58,98.32 366.65,98.01 369.73,97.71 372.81,97.41 375.89,97.11 378.97,96.82 382.04,96.53 385.12,96.24 388.20,95.95 391.28,95.67 394.36,95.39 397.43,95.12 400.51,94.84 403.59,94.57 406.67,94.30 409.74,94.03 412.82,93.77 415.90,93.50 418.98,93.24 422.06,92.99 425.13,92.73 428.21,92.48 431.29,92.22 434.37,91.98 437.45,91.73 440.52,91.48 443.60,91.24 446.68,91.00 449.76,90.76 452.83,90.52 455.91,90.28 458.99,90.05 462.07,89.82 465.15,89.59 468.22,89.36 471.30,89.13 474.38,88.90 477.46,88.68 480.54,88.46 483.61,88.24 486.69,88.02 489.77,87.80 492.85,87.58 495.93,87.37 499.00,87.15 502.08,86.94 505.16,86.73 508.24,86.52 511.31,86.32 514.39,86.11 517.47,85.90 520.55,85.70 523.63,85.50 526.70,85.30 529.78,85.10 532.86,84.90 535.94,84.70 539.02,84.51 542.09,84.31 545.17,84.12 548.25,83.93 551.33,83.74 554.40,83.55 557.48,83.36 560.56,83.17 563.64,82.98 566.72,82.80 569.79,82.61 572.87,82.43 575.95,82.25 579.03,82.06 582.11,81.88 585.18,81.70 588.26,81.53 591.34,81.35 594.42,81.17 597.50,81.00 600.57,80.82 603.65,80.65 606.73,80.48 609.81,80.31 612.88,80.13 615.96,79.96 619.04,79.80 622.12,79.63 625.20,79.46 628.27,79.29 631.35,79.13 634.43,78.96 637.51,78.80 640.59,78.64 643.66,78.48 646.74,78.31 649.82,78.15 652.90,77.99 655.98,77.83 659.05,77.68 662.13,77.52 665.21,77.36 668.29,77.21 671.36,77.05 674.44,76.90 677.52,76.74 680.60,76.59 683.68,76.44 686.75,76.29 689.83,76.13 692.91,75.98 695.99,75.83 699.07,75.69 702.14,75.54 705.22,75.39 708.30,75.24 711.38,75.10 714.45,74.95 717.53,74.81 720.61,74.66 723.69,74.52 726.77,74.38 729.84,74.23 732.92,74.09 736.00,73.95"/>
<polyline stroke="#00fb92" points="103.56,257.92 103.57,257.04 103.57,256.17 103.58,255.28 103.58,254.39 103.59,253.50 103.60,252.60 103.61,251.69 103.61,250.78 103.62,249.86 103.63,248.93 103.64,248.00 103.65,247.07 103.66,246.12 103.68,245.17 103.69,244.22 103.70,243.26 103.72,242.29 103.73,241.31 103.75,240.33 103.77,239.34 103.79,238.35 103.81,237.35 103.84,236.34 103.86,235.32 103.89,234.30 103.92,233.27 103.95,232.23 103.99,231.19 104.02,230.13 104.06,229.08 104.11,228.01 104.15,226.93 104.20,225.85 104.25,224.76 104.31,223.67 104.37,222.56 104.44,221.45 104.51,220.33 104.58,219.20 104.67,218.06 104.75,216.91 104.85,215.76 104.95,214.60 105.06,213.42 105.18,212.24 105.31,211.05 105.44,209.86 105.59,208.65 105.75,207.43 105.92,206.21 106.10,204.97 106.30,203.73 106.51,202.47 106.74,201.21 106.98,199.94 107.24,198.66 107.53,197.36 107.83,196.06 108.16,194.75 108.51,193.42 108.89,192.09 109.30,190.74 109.73,189.39 110.20,188.02 110.71,186.64 111.26,185.26 111.84,183.86 112.47,182.45 113.15,181.02 113.88,179.59 114.67,178.14 115.51,176.69 116.42,175.22 117.39,173.73 118.44,172.24 119.57,170.73 120.79,169.21 122.10,167.68 123.50,166.13 126.58,163.06 129.66,160.32 132.74,157.86 135.81,155.62 138.89,153.56 141.97,151.64 145.05,149.86 148.12,148.19 151.20,146.62 154.28,145.14 157.36,143.73 160.44,142.39 163.51,141.12 166.59,139.90 169.67,138.73 172.75,137.60 175.83,136.52 178.90,135.48 181.98,134.48 185.06,133.51 188.14,132.57 191.21,131.66 194.29,130.78 197.37,129.92 200.45,129.09 203.53,128.28 206.60,127.49 209.68,126.72 212.76,125.98 215.84,125.24 218.92,124.53 221.99,123.83 225.07,123.15 228.15,122.49 231.23,121.83 234.31,121.19 237.38,120.57 240.46,119.95 243.54,119.35 246.62,118.76 249.69,118.18 252.77,117.61 255.85,117.05 258.93,116.51 262.01,115.97 265.08,115.43 268.16,114.91 271.24,114.40 274.32,113.89 277.40,113.39 280.47,112.90 283.55,112.42 286.63,111.95 289.71,111.48 292.78,111.01 295.86,110.56 298.94,110.11 302.02,109.67 305.10,109.23 308.17,108.80 311.25,108.37 314.33,107.95 317.41,107.53 320.49,107.12 323.56,106.72 326.64,106.32 329.72,105.92 332.80,105.53 335.88,105.14 338.95,104.76 342.03,104.38 345.11,104.01 348.19,103.64 351.26,103.27 354.34,102.91 357.42,102.55 360.50,102.20 363.58,101.85 366.65,101.50 369.73,101.16 372.81,100.82 375.89,100.48 378.97,100.15 382.04,99.82 385.12,99.49 388.20,99.17 391.28,98.85 394.36,98.53 397.43,98.21 400.51,97.90 403.59,97.59 406.67,97.28 409.74,96.98 412.82,96.68 415.90,96.38 418.98,96.08 422.06,95.79 425.13,95.49 428.21,95.21 431.29,94.92 434.37,94.63 437.45,94.35 440.52,94.07 443.60,93.79 446.68,93.52 449.76,93.24 452.83,92.97 455.91,92.70 458.99,92.44 462.07,92.17 465.15,91.91 468.22,91.64 471.30,91.38 474.38,91.13 477.46,90.87 480.54,90.62 483.61,90.36 486.69,90.11 489.77,89.86 492.85,89.62 495.93,89.37 499.00,89.13 502.08,88.88 505.16,88.64 508.24,88.40 511.31,88.17 514.39,87.93 517.47,87.70 520.55,87.46 523.63,87.23 526.70,87.00 529.78,86.77 532.86,86.55 535.94,86.32 539.02,86.09 542.09,85.87 545.17,85.65 548.25,85.43 551.33,85.21 554.40,84.99 557.48,84.77 560.56,84.56 563.64,84.35 566.72,84.13 569.79,83.92 572.87,83.71 575.95,83.50 579.03,83.29 582.11,83.09 585.18,82.88 588.26,82.67 591.34,82.47 594.42,82.27 597.50,82.07 600.57,81.87 603.65,81.67 606.73,81.47 609.81,81.27 612.88,81.07 615.96,80.88 619.04,80.69 622.12,80.49 625.20,80.30 628.27,80.11 631.35,79.92 634.43,79.73 637.51,79.54 640.59,79.35 643.66,79.17 646.74,78.98 649.82,78.80 652.90,78.61 655.98,78.43 659.05,78.25 662.13,78.06 665.21,77.88 668.29,77.70 671.36,77.53 674.44,77.35 677.52,77.17 680.60,76.99 683.68,76.82 686.75,76.64 689.83,76.47 692.91,76.30 695.99,76.12 699.07,75.95 702.14,75.78 705.22,75.61 708.30,75.44 711.38,75.27 714.45,75.11 717.53,74.94 720.61,74.77 723.69,74.61 726.77,74.44 729.84,74.28 732.92,74.11 736.00,73.95"/>
<polyline stroke="#00ff18" points="103.56,276.62 103.57,275.72 103.57,274.82 103.58,273.91 103.58,273.00 103.59,272.08 103.60,271.15 103.61,270.21 103.61,269.27 103.62,268.33 103.63,267.37 103.64,266.41 103.65,265.44 103.66,264.46 103.68,263.48 103.69,262.49 103.70,261.49 103.72,260.49 103.73,259.47 103.75,258.45 103.77,257.43 103.79,256.39 103.81,255.35 103.84,254.29 103.86,253.23 103.89,252.17 103.92,251.09 103.95,250.01 103.99,248.91 104.02,247.81 104.06,246.70 104.11,245.58 104.15,244.45 104.20,243.32 104.25,242.17 104.31,241.02 104.37,239.85 104.44,238.68 104.51,237.50 104.58,236.30 104.67,235.10 104.75,233.89 104.85,232.67 104.95,231.43 105.06,230.19 105.18,228.94 105.31,227.68 105.44,226.40 105.59,225.12 105.75,223.82 105.92,222.51 106.10,221.20 106.30,219.87 106.51,218.53 106.74,217.17 106.98,215.81 107.24,214.43 107.53,213.05 107.83,211.64 108.16,210.23 108.51,208.81 108.89,207.37 109.30,205.92 109.73,204.45 110.20,202.98 110.71,201.49 111.26,199.98 111.84,198.46 112.47,196.93 113.15,195.39 113.88,193.83 114.67,192.25 115.51,190.66 116.42,189.06 117.39,187.44 118.44,185.80 119.57,184.15 120.79,182.48 122.10,180.80 123.50,179.10 126.58,175.71 129.66,172.69 132.74,169.97 135.81,167.48 138.89,165.19 141.97,163.07 145.05,161.09 148.12,159.23 151.20,157.47 154.28,155.82 157.36,154.24 160.44,152.74 163.51,151.31 166.59,149.94 169.67,148.63 172.75,147.37 175.83,146.15 178.90,144.98 181.98,143.85 185.06,142.75 188.14,141.69 191.21,140.66 194.29,139.67 197.37,138.70 200.45,137.76 203.53,136.84 206.60,135.95 209.68,135.08 212.76,134.23 215.84,133.40 218.92,132.59 221.99,131.79 225.07,131.02 228.15,130.26 231.23,129.52 234.31,128.79 237.38,128.08 240.46,127.38 243.54,126.69 246.62,126.02 249.69,125.35 252.77,124.70 255.85,124.07 258.93,123.44 262.01,122.82 265.08,122.21 268.16,121.62 271.24,121.03 274.32,120.45 277.40,119.88 280.47,119.31 283.55,118.76 286.63,118.21 289.71,117.68 292.78,117.15 295.86,116.62 298.94,116.11 302.02,115.60 305.10,115.09 308.17,114.60 311.25,114.11 314.33,113.62 317.41,113.14 320.49,112.67 323.56,112.20 326.64,111.74 329.72,111.29 332.80,110.83 335.88,110.39 338.95,109.95 342.03,109.51 345.11,109.08 348.19,108.65 351.26,108.23 354.34,107.81 357.42,107.40 360.50,106.99 363.58,106.58 366.65,106.18 369.73,105.78 372.81,105.39 375.89,105.00 378.97,104.61 382.04,104.23 385.12,103.85 388.20,103.48 391.28,103.10 394.36,102.73 397.43,102.37 400.51,102.01 403.59,101.65 406.67,101.29 409.74,100.94 412.82,100.59 415.90,100.24 418.98,99.89 422.06,99.55 425.13,99.21 428.21,98.88 431.29,98.54 434.37,98.21 437.45,97.88 440.52,97.56 443.60,97.23 446.68,96.91 449.76,96.59 452.83,96.28 455.91,95.96 458.99,95.65 462.07,95.34 465.15,95.03 468.22,94.73 471.30,94.43 474.38,94.13 477.46,93.83 480.54,93.53 483.61,93.24 486.69,92.94 489.77,92.65 492.85,92.36 495.93,92.08 499.00,91.79 502.08,91.51 505.16,91.23 508.24,90.95 511.31,90.67 514.39,90.39 517.47,90.12 520.55,89.85 523.63,89.57 526.70,89.31 529.78,89.04 532.86,88.77 535.94,88.51 539.02,88.24 542.09,87.98 545.17,87.72 548.25,87.46 551.33,87.21 554.40,86.95 557.48,86.70 560.56,86.44 563.64,86.19 566.72,85.94 569.79,85.70 572.87,85.45 575.95,85.20 579.03,84.96 582.11,84.71 585.18,84.47 588.26,84.23 591.34,83.99 594.42,83.76 597.50,83.52 600.57,83.28 603.65,83.05 606.73,82.82 609.81,82.58 612.88,82.35 615.96,82.12 619.04,81.89 622.12,81.67 625.20,81.44 628.27,81.22 631.35,80.99 634.43,80.77 637.51,80.55 640.59,80.33 643.66,80.11 646.74,79.89 649.82,79.67 652.90,79.45 655.98,79.24 659.05,79.02 662.13,78.81 665.21,78.60 668.29,78.38 671.36,78.17 674.44,77.96 677.52,77.75 680.60,77.55 683.68,77.34 686.75,77.13 689.83,76.93 692.91,76.72 695.99,76.52 699.07,76.32 702.14,76.12 705.22,75.91 708.30,75.71 711.38,75.51 714.45,75.32 717.53,75.12 720.61,74.92 723.69,74.73 726.77,74.53 729.84,74.34 732.92,74.14 736.00,73.95"/>
<polyline stroke="#58ff00" points="103.56,299.55 103.57,298.65 103.57,297.73 103.58,296.81 103.58,295.88 103.59,294.94 103.60,294.00 103.61,293.05 103.61,292.09 103.62,291.12 103.63,290.15 103.64,289.17 103.65,288.18 103.66,287.18 103.68,286.17 103.69,285.16 103.70,284.13 103.72,283.10 103.73,282.06 103.75,281.01 103.77,279.95 103.79,278.88 103.81,277.80 103.84,276.72 103.86,275.62 103.89,274.52 103.92,273.40 103.95,272.28 103.99,271.14 104.02,270.00 104.06,268.85 104.11,267.68 104.15,266.51 104.20,265.32 104.25,264.12 104.31,262.92 104.37,261.70 104.44,260.47 104.51,259.23 104.58,257.98 104.67,256.72 104.75,255.44 104.85,254.15 104.95,252.85 105.06,251.54 105.18,250.22 105.31,248.88 105.44,247.53 105.59,246.17 105.75,244.80 105.92,243.41 106.10,242.00 106.30,240.59 106.51,239.16 106.74,237.71 106.98,236.26 107.24,234.78 107.53,233.29 107.83,231.79 108.16,230.27 108.51,228.74 108.89,227.19 109.30,225.63 109.73,224.04 110.20,222.45 110.71,220.83 111.26,219.20 111.84,217.55 112.47,215.88 113.15,214.20 113.88,212.50 114.67,210.78 115.51,209.04 116.42,207.28 117.39,205.50 118.44,203.70 119.57,201.88 120.79,200.05 122.10,198.19 123.50,196.31 126.58,192.55 129.66,189.20 132.74,186.16 135.81,183.39 138.89,180.82 141.97,178.44 145.05,176.21 148.12,174.11 151.20,172.13 154.28,170.26 157.36,168.48 160.44,166.78 163.51,165.15 166.59,163.60 169.67,162.10 172.75,160.66 175.83,159.28 178.90,157.94 181.98,156.64 185.06,155.39 188.14,154.18 191.21,153.00 194.29,151.85 197.37,150.74 200.45,149.66 203.53,148.60 206.60,147.57 209.68,146.57 212.76,145.59 215.84,144.63 218.92,143.69 221.99,142.78 225.07,141.88 228.15,141.00 231.23,140.14 234.31,139.29 237.38,138.47 240.46,137.65 243.54,136.86 246.62,136.07 249.69,135.30 252.77,134.54 255.85,133.80 258.93,133.07 262.01,132.35 265.08,131.64 268.16,130.94 271.24,130.25 274.32,129.58 277.40,128.91 280.47,128.25 283.55,127.60 286.63,126.96 289.71,126.33 292.78,125.71 295.86,125.09 298.94,124.49 302.02,123.89 305.10,123.30 308.17,122.71 311.25,122.14 314.33,121.56 317.41,121.00 320.49,120.44 323.56,119.89 326.64,119.35 329.72,118.81 332.80,118.28 335.88,117.75 338.95,117.23 342.03,116.72 345.11,116.21 348.19,115.70 351.26,115.20 354.34,114.71 357.42,114.22 360.50,113.73 363.58,113.25 366.65,112.77 369.73,112.30 372.81,111.83 375.89,111.37 378.97,110.91 382.04,110.46 385.12,110.01 388.20,109.56 391.28,109.12 394.36,108.68 397.43,108.24 400.51,107.81 403.59,107.38 406.67,106.96 409.74,106.54 412.82,106.12 415.90,105.71 418.98,105.30 422.06,104.89 425.13,104.48 428.21,104.08 431.29,103.68 434.37,103.29 437.45,102.89 440.52,102.50 443.60,102.12 446.68,101.73 449.76,101.35 452.83,100.97 455.91,100.60 458.99,100.22 462.07,99.85 465.15,99.48 468.22,99.12 471.30,98.76 474.38,98.39 477.46,98.04 480.54,97.68 483.61,97.33 486.69,96.97 489.77,96.63 492.85,96.28 495.93,95.93 499.00,95.59 502.08,95.25 505.16,94.91 508.24,94.57 511.31,94.24 514.39,93.91 517.47,93.58 520.55,93.25 523.63,92.92 526.70,92.60 529.78,92.27 532.86,91.95 535.94,91.63 539.02,91.32 542.09,91.00 545.17,90.69 548.25,90.38 551.33,90.07 554.40,89.76 557.48,89.45 560.56,89.14 563.64,88.84 566.72,88.54 569.79,88.24 572.87,87.94 575.95,87.64 579.03,87.35 582.11,87.05 585.18,86.76 588.26,86.47 591.34,86.18 594.42,85.89 597.50,85.60 600.57,85.32 603.65,85.03 606.73,84.75 609.81,84.47 612.88,84.19 615.96,83.91 619.04,83.63 622.12,83.36 625.20,83.08 628.27,82.81 631.35,82.54 634.43,82.27 637.51,82.00 640.59,81.73 643.66,81.46 646.74,81.19 649.82,80.93 652.90,80.66 655.98,80.40 659.05,80.14 662.13,79.88 665.21,79.62 668.29,79.36 671.36,79.11 674.44,78.85 677.52,78.60 680.60,78.34 683.68,78.09 686.75,77.84 689.83,77.59 692.91,77.34 695.99,77.09 699.07,76.84 702.14,76.60 705.22,76.35 708.30,76.11 711.38,75.86 714.45,75.62 717.53,75.38 720.61,75.14 723.69,74.90 726.77,74.66 729.84,74.42 732.92,74.19 736.00,73.95"/>
<polyline stroke="#e0ff00" points="103.56,328.34 103.57,327.45 103.57,326.54 103.58,325.63 103.58,324.71 103.59,323.78 103.60,322.84 103.61,321.90 103.61,320.94 103.62,319.98 103.63,319.01 103.64,318.03 103.65,317.04 103.66,316.04 103.68,315.03 103.69,314.01 103.70,312.99 103.72,311.95 103.73,310.90 103.75,309.84 103.77,308.78 103.79,307.70 103.81,306.61 103.84,305.51 103.86,304.40 103.89,303.28 103.92,302.15 103.95,301.00 103.99,299.85 104.02,298.68 104.06,297.50 104.11,296.31 104.15,295.11 104.20,293.89 104.25,292.67 104.31,291.43 104.37,290.17 104.44,288.91 104.51,287.63 104.58,286.33 104.67,285.03 104.75,283.70 104.85,282.37 104.95,281.02 105.06,279.65 105.18,278.27 105.31,276.88 105.44,275.47 105.59,274.04 105.75,272.60 105.92,271.14 106.10,269.66 106.30,268.17 106.51,266.66 106.74,265.13 106.98,263.59 107.24,262.03 107.53,260.44 107.83,258.84 108.16,257.23 108.51,255.59 108.89,253.93 109.30,252.25 109.73,250.55 110.20,248.83 110.71,247.09 111.26,245.33 111.84,243.55 112.47,241.74 113.15,239.91 113.88,238.06 114.67,236.18 115.51,234.28 116.42,232.35 117.39,230.40 118.44,228.43 119.57,226.42 120.79,224.39 122.10,222.34 123.50,220.25 126.58,216.08 129.66,212.33 132.74,208.93 135.81,205.80 138.89,202.90 141.97,200.20 145.05,197.67 148.12,195.29 151.20,193.03 154.28,190.89 157.36,188.85 160.44,186.89 163.51,185.02 166.59,183.23 169.67,181.50 172.75,179.84 175.83,178.23 178.90,176.68 181.98,175.17 185.06,173.72 188.14,172.30 191.21,170.92 194.29,169.59 197.37,168.28 200.45,167.01 203.53,165.77 206.60,164.56 209.68,163.38 212.76,162.23 215.84,161.10 218.92,159.99 221.99,158.91 225.07,157.84 228.15,156.80 231.23,155.78 234.31,154.78 237.38,153.79 240.46,152.83 243.54,151.88 246.62,150.94 249.69,150.02 252.77,149.12 255.85,148.23 258.93,147.35 262.01,146.49 265.08,145.64 268.16,144.80 271.24,143.98 274.32,143.16 277.40,142.36 280.47,141.57 283.55,140.79 286.63,140.02 289.71,139.25 292.78,138.50 295.86,137.76 298.94,137.03 302.02,136.30 305.10,135.59 308.17,134.88 311.25,134.18 314.33,133.49 317.41,132.80 320.49,132.13 323.56,131.46 326.64,130.79 329.72,130.14 332.80,129.49 335.88,128.85 338.95,128.21 342.03,127.58 345.11,126.96 348.19,126.34 351.26,125.73 354.34,125.12 357.42,124.52 360.50,123.93 363.58,123.34 366.65,122.76 369.73,122.18 372.81,121.60 375.89,121.03 378.97,120.47 382.04,119.91 385.12,119.36 388.20,118.81 391.28,118.26 394.36,117.72 397.43,117.18 400.51,116.65 403.59,116.12 406.67,115.60 409.74,115.08 412.82,114.56 415.90,114.05 418.98,113.54 422.06,113.03 425.13,112.53 428.21,112.03 431.29,111.54 434.37,111.05 437.45,110.56 440.52,110.07 443.60,109.59 446.68,109.12 449.76,108.64 452.83,108.17 455.91,107.70 458.99,107.24 462.07,106.77 465.15,106.31 468.22,105.86 471.30,105.41 474.38,104.95 477.46,104.51 480.54,104.06 483.61,103.62 486.69,103.18 489.77,102.74 492.85,102.31 495.93,101.88 499.00,101.45 502.08,101.02 505.16,100.59 508.24,100.17 511.31,99.75 514.39,99.33 517.47,98.92 520.55,98.51 523.63,98.10 526.70,97.69 529.78,97.28 532.86,96.88 535.94,96.47 539.02,96.08 542.09,95.68 545.17,95.28 548.25,94.89 551.33,94.50 554.40,94.11 557.48,93.72 560.56,93.33 563.64,92.95 566.72,92.57 569.79,92.19 572.87,91.81 575.95,91.43 579.03,91.06 582.11,90.69 585.18,90.31 588.26,89.95 591.34,89.58 594.42,89.21 597.50,88.85 600.57,88.49 603.65,88.12 606.73,87.77 609.81,87.41 612.88,87.05 615.96,86.70 619.04,86.34 622.12,85.99 625.20,85.64 628.27,85.30 631.35,84.95 634.43,84.60 637.51,84.26 640.59,83.92 643.66,83.58 646.74,83.24 649.82,82.90 652.90,82.56 655.98,82.23 659.05,81.89 662.13,81.56 665.21,81.23 668.29,80.90 671.36,80.57 674.44,80.24 677.52,79.92 680.60,79.59 683.68,79.27 686.75,78.95 689.83,78.62 692.91,78.30 695.99,77.99 699.07,77.67 702.14,77.35 705.22,77.04 708.30,76.72 711.38,76.41 714.45,76.10 717.53,75.79 720.61,75.48 723.69,75.17 726.77,74.86 729.84,74.56 732.92,74.25 736.00,73.95"/>
<polyline stroke="#ffa000" points="103.56,365.55 103.57,364.71 103.57,363.87 103.58,363.01 103.58,362.14 103.59,361.27 103.60,360.39 103.61,359.50 103.61,358.59 103.62,357.68 103.63,356.76 103.64,355.83 103.65,354.89 103.66,353.94 103.68,352.98 103.69,352.01 103.70,351.02 103.72,350.03 103.73,349.03 103.75,348.01 103.77,346.98 103.79,345.94 103.81,344.89 103.84,343.83 103.86,342.76 103.89,341.67 103.92,340.57 103.95,339.46 103.99,338.33 104.02,337.19 104.06,336.04 104.11,334.87 104.15,333.69 104.20,332.50 104.25,331.29 104.31,330.07 104.37,328.83 104.44,327.57 104.51,326.30 104.58,325.02 104.67,323.71 104.75,322.39 104.85,321.06 104.95,319.71 105.06,318.33 105.18,316.95 105.31,315.54 105.44,314.11 105.59,312.67 105.75,311.20 105.92,309.72 106.10,308.22 106.30,306.69 106.51,305.15 106.74,303.58 106.98,301.99 107.24,300.38 107.53,298.75 107.83,297.09 108.16,295.41 108.51,293.70 108.89,291.97 109.30,290.22 109.73,288.43 110.20,286.63 110.71,284.79 111.26,282.93 111.84,281.03 112.47,279.11 113.15,277.16 113.88,275.18 114.67,273.17 115.51,271.13 116.42,269.05 117.39,266.94 118.44,264.79 119.57,262.61 120.79,260.40 122.10,258.14 123.50,255.85 126.58,251.24 129.66,247.08 132.74,243.27 135.81,239.76 138.89,236.49 141.97,233.43 145.05,230.55 148.12,227.82 151.20,225.23 154.28,222.76 157.36,220.41 160.44,218.14 163.51,215.97 166.59,213.88 169.67,211.86 172.75,209.91 175.83,208.02 178.90,206.19 181.98,204.41 185.06,202.68 188.14,201.00 191.21,199.37 194.29,197.77 197.37,196.21 200.45,194.69 203.53,193.20 206.60,191.75 209.68,190.33 212.76,188.93 215.84,187.57 218.92,186.22 221.99,184.91 225.07,183.62 228.15,182.35 231.23,181.10 234.31,179.88 237.38,178.67 240.46,177.49 243.54,176.32 246.62,175.17 249.69,174.04 252.77,172.92 255.85,171.83 258.93,170.74 262.01,169.67 265.08,168.62 268.16,167.58 271.24,166.55 274.32,165.54 277.40,164.53 280.47,163.54 283.55,162.57 286.63,161.60 289.71,160.65 292.78,159.70 295.86,158.77 298.94,157.84 302.02,156.93 305.10,156.03 308.17,155.13 311.25,154.25 314.33,153.37 317.41,152.50 320.49,151.64 323.56,150.79 326.64,149.95 329.72,149.12 332.80,148.29 335.88,147.47 338.95,146.66 342.03,145.85 345.11,145.05 348.19,144.26 351.26,143.48 354.34,142.70 357.42,141.93 360.50,141.16 363.58,140.40 366.65,139.65 369.73,138.90 372.81,138.16 375.89,137.42 378.97,136.69 382.04,135.97 385.12,135.25 388.20,134.54 391.28,133.83 394.36,133.12 397.43,132.42 400.51,131.73 403.59,131.04 406.67,130.35 409.74,129.67 412.82,129.00 415.90,128.33 418.98,127.66 422.06,127.00 425.13,126.34 428.21,125.68 431.29,125.03 434.37,124.39 437.45,123.75 440.52,123.11 443.60,122.47 446.68,121.84 449.76,121.22 452.83,120.59 455.91,119.97 458.99,119.36 462.07,118.74 465.15,118.13 468.22,117.53 471.30,116.92 474.38,116.33 477.46,115.73 480.54,115.14 483.61,114.55 486.69,113.96 489.77,113.38 492.85,112.80 495.93,112.22 499.00,111.64 502.08,111.07 505.16,110.50 508.24,109.94 511.31,109.37 514.39,108.81 517.47,108.26 520.55,107.70 523.63,107.15 526.70,106.60 529.78,106.05 532.86,105.51 535.94,104.96 539.02,104.42 542.09,103.89 545.17,103.35 548.25,102.82 551.33,102.29 554.40,101.76 557.48,101.23 560.56,100.71 563.64,100.19 566.72,99.67 569.79,99.15 572.87,98.64 575.95,98.13 579.03,97.62 582.11,97.11 585.18,96.60 588.26,96.10 591.34,95.60 594.42,95.10 597.50,94.60 600.57,94.10 603.65,93.61 606.73,93.12 609.81,92.63 612.88,92.14 615.96,91.65 619.04,91.17 622.12,90.68 625.20,90.20 628.27,89.72 631.35,89.25 634.43,88.77 637.51,88.30 640.59,87.82 643.66,87.35 646.74,86.88 649.82,86.42 652.90,85.95 655.98,85.49 659.05,85.02 662.13,84.56 665.21,84.11 668.29,83.65 671.36,83.19 674.44,82.74 677.52,82.28 680.60,81.83 683.68,81.38 686.75,80.93 689.83,80.49 692.91,80.04 695.99,79.60 699.07,79.15 702.14,78.71 705.22,78.27 708.30,77.84 711.38,77.40 714.45,76.96 717.53,76.53 720.61,76.10 723.69,75.66 726.77,75.23 729.84,74.80 732.92,74.38 736.00,73.95"/>
<polyline stroke="#ff1200" points="103.56,415.51 103.57,414.83 103.57,414.13 103.58,413.43 103.58,412.72 103.59,412.00 103.60,411.27 103.61,410.53 103.61,409.79 103.62,409.03 103.63,408.26 103.64,407.49 103.65,406.70 103.66,405.91 103.68,405.10 103.69,404.28 103.70,403.46 103.72,402.62 103.73,401.77 103.75,400.91 103.77,400.04 103.79,399.15 103.81,398.26 103.84,397.35 103.86,396.43 103.89,395.50 103.92,394.55 103.95,393.59 103.99,392.62 104.02,391.63 104.06,390.63 104.11,389.62 104.15,388.58 104.20,387.54 104.25,386.48 104.31,385.40 104.37,384.31 104.44,383.20 104.51,382.07 104.58,380.93 104.67,379.77 104.75,378.59 104.85,377.39 104.95,376.17 105.06,374.93 105.18,373.68 105.31,372.40 105.44,371.10 105.59,369.78 105.75,368.44 105.92,367.08 106.10,365.69 106.30,364.28 106.51,362.84 106.74,361.38 106.98,359.90 107.24,358.39 107.53,356.85 107.83,355.28 108.16,353.69 108.51,352.06 108.89,350.41 109.30,348.72 109.73,347.00 110.20,345.25 110.71,343.47 111.26,341.65 111.84,339.80 112.47,337.91 113.15,335.98 113.88,334.02 114.67,332.01 115.51,329.96 116.42,327.87 117.39,325.73 118.44,323.55 119.57,321.33 120.79,319.05 122.10,316.73 123.50,314.35 126.58,309.52 129.66,305.12 132.74,301.06 135.81,297.28 138.89,293.73 141.97,290.39 145.05,287.22 148.12,284.19 151.20,281.30 154.28,278.53 157.36,275.87 160.44,273.30 163.51,270.82 166.59,268.42 169.67,266.09 172.75,263.83 175.83,261.63 178.90,259.49 181.98,257.40 185.06,255.36 188.14,253.37 191.21,251.42 194.29,249.51 197.37,247.64 200.45,245.81 203.53,244.01 206.60,242.25 209.68,240.51 212.76,238.81 215.84,237.13 218.92,235.48 221.99,233.85 225.07,232.25 228.15,230.68 231.23,229.12 234.31,227.59 237.38,226.08 240.46,224.58 243.54,223.11 246.62,221.66 249.69,220.22 252.77,218.80 255.85,217.39 258.93,216.00 262.01,214.63 265.08,213.27 268.16,211.93 271.24,210.59 274.32,209.28 277.40,207.97 280.47,206.68 283.55,205.40 286.63,204.13 289.71,202.88 292.78,201.63 295.86,200.40 298.94,199.17 302.02,197.96 305.10,196.75 308.17,195.56 311.25,194.37 314.33,193.20 317.41,192.03 320.49,190.87 323.56,189.73 326.64,188.58 329.72,187.45 332.80,186.33 335.88,185.21 338.95,184.10 342.03,183.00 345.11,181.90 348.19,180.81 351.26,179.73 354.34,178.66 357.42,177.59 360.50,176.53 363.58,175.48 366.65,174.43 369.73,173.39 372.81,172.35 375.89,171.32 378.97,170.29 382.04,169.27 385.12,168.26 388.20,167.25 391.28,166.25 394.36,165.25 397.43,164.26 400.51,163.27 403.59,162.29 406.67,161.31 409.74,160.34 412.82,159.37 415.90,158.41 418.98,157.45 422.06,156.49 425.13,155.54 428.21,154.59 431.29,153.65 434.37,152.71 437.45,151.78 440.52,150.85 443.60,149.92 446.68,149.00 449.76,148.08 452.83,147.17 455.91,146.26 458.99,145.35 462.07,144.45 465.15,143.55 468.22,142.65 471.30,141.76 474.38,140.87 477.46,139.98 480.54,139.10 483.61,138.22 486.69,137.34 489.77,136.47 492.85,135.60 495.93,134.73 499.00,133.87 502.08,133.01 505.16,132.15 508.24,131.29 511.31,130.44 514.39,129.59 517.47,128.74 520.55,127.90 523.63,127.06 526.70,126.22 529.78,125.38 532.86,124.55 535.94,123.72 539.02,122.89 542.09,122.06 545.17,121.24 548.25,120.41 551.33,119.60 554.40,118.78 557.48,117.96 560.56,117.15 563.64,116.34 566.72,115.54 569.79,114.73 572.87,113.93 575.95,113.13 579.03,112.33 582.11,111.53 585.18,110.74 588.26,109.94 591.34,109.15 594.42,108.37 597.50,107.58 600.57,106.79 603.65,106.01 606.73,105.23 609.81,104.45 612.88,103.68 615.96,102.90 619.04,102.13 622.12,101.36 625.20,100.59 628.27,99.82 631.35,99.05 634.43,98.29 637.51,97.53 640.59,96.77 643.66,96.01 646.74,95.25 649.82,94.50 652.90,93.74 655.98,92.99 659.05,92.24 662.13,91.49 665.21,90.74 668.29,90.00 671.36,89.25 674.44,88.51 677.52,87.77 680.60,87.03 683.68,86.29 686.75,85.55 689.83,84.82 692.91,84.08 695.99,83.35 699.07,82.62 702.14,81.89 705.22,81.16 708.30,80.43 711.38,79.71 714.45,78.98 717.53,78.26 720.61,77.54 723.69,76.82 726.77,76.10 729.84,75.38 732.92,74.67 736.00,73.95"/>
<polyline stroke="#ff0000" points="103.56,486.14 103.57,485.82 103.57,485.49 103.58,485.16 103.58,484.82 103.59,484.48 103.60,484.14 103.61,483.78 103.61,483.43 103.62,483.07 103.63,482.70 103.64,482.32 103.65,481.95 103.66,481.56 103.68,481.17 103.69,480.77 103.70,480.37 103.72,479.96 103.73,479.54 103.75,479.12 103.77,478.69 103.79,478.25 103.81,477.80 103.84,477.35 103.86,476.89 103.89,476.42 103.92,475.94 103.95,475.46 103.99,474.96 104.02,474.46 104.06,473.95 104.11,473.42 104.15,472.89 104.20,472.35 104.25,471.80 104.31,471.24 104.37,470.66 104.44,470.08 104.51,469.48 104.58,468.88 104.67,468.26 104.75,467.63 104.85,466.98 104.95,466.32 105.06,465.65 105.18,464.97 105.31,464.27 105.44,463.55 105.59,462.82 105.75,462.07 105.92,461.31 106.10,460.53 106.30,459.73 106.51,458.91 106.74,458.08 106.98,457.22 107.24,456.35 107.53,455.45 107.83,454.53 108.16,453.59 108.51,452.62 108.89,451.64 109.30,450.62 109.73,449.58 110.20,448.51 110.71,447.42 111.26,446.29 111.84,445.13 112.47,443.94 113.15,442.72 113.88,441.46 114.67,440.17 115.51,438.84 116.42,437.47 117.39,436.05 118.44,434.60 119.57,433.10 120.79,431.55 122.10,429.95 123.50,428.30 126.58,424.89 129.66,421.72 132.74,418.74 135.81,415.91 138.89,413.22 141.97,410.64 145.05,408.15 148.12,405.75 151.20,403.42 154.28,401.16 157.36,398.95 160.44,396.80 163.51,394.70 166.59,392.64 169.67,390.61 172.75,388.63 175.83,386.68 178.90,384.75 181.98,382.86 185.06,380.99 188.14,379.15 191.21,377.33 194.29,375.53 197.37,373.75 200.45,371.98 203.53,370.24 206.60,368.51 209.68,366.79 212.76,365.09 215.84,363.40 218.92,361.72 221.99,360.06 225.07,358.41 228.15,356.76 231.23,355.13 234.31,353.50 237.38,351.89 240.46,350.28 243.54,348.68 246.62,347.09 249.69,345.50 252.77,343.92 255.85,342.34 258.93,340.78 262.01,339.21 265.08,337.65 268.16,336.10 271.24,334.55 274.32,333.00 277.40,331.46 280.47,329.92 283.55,328.39 286.63,326.85 289.71,325.32 292.78,323.79 295.86,322.27 298.94,320.75 302.02,319.23 305.10,317.71 308.17,316.19 311.25,314.67 314.33,313.16 317.41,311.64 320.49,310.13 323.56,308.62 326.64,307.11 329.72,305.59 332.80,304.08 335.88,302.57 338.95,301.06 342.03,299.55 345.11,298.04 348.19,296.53 351.26,295.01 354.34,293.50 357.42,291.99 360.50,290.47 363.58,288.96 366.65,287.44 369.73,285.92 372.81,284.40 375.89,282.88 378.97,281.36 382.04,279.84 385.12,278.31 388.20,276.79 391.28,275.26 394.36,273.73 397.43,272.20 400.51,270.66 403.59,269.12 406.67,267.58 409.74,266.04 412.82,264.50 415.90,262.95 418.98,261.40 422.06,259.85 425.13,258.30 428.21,256.74 431.29,255.18 434.37,253.61 437.45,252.05 440.52,250.48 443.60,248.90 446.68,247.33 449.76,245.75 452.83,244.16 455.91,242.58 458.99,240.99 462.07,239.39 465.15,237.79 468.22,236.19 471.30,234.59 474.38,232.98 477.46,231.36 480.54,229.74 483.61,228.12 486.69,226.50 489.77,224.86 492.85,223.23 495.93,221.59 499.00,219.95 502.08,218.30 505.16,216.64 508.24,214.98 511.31,213.32 514.39,211.65 517.47,209.98 520.55,208.30 523.63,206.62 526.70,204.93 529.78,203.24 532.86,201.54 535.94,199.83 539.02,198.12 542.09,196.41 545.17,194.69 548.25,192.96 551.33,191.23 554.40,189.49 557.48,187.74 560.56,185.99 563.64,184.24 566.72,182.48 569.79,180.71 572.87,178.93 575.95,177.15 579.03,175.37 582.11,173.57 585.18,171.77 588.26,169.96 591.34,168.15 594.42,166.33 597.50,164.50 600.57,162.67 603.65,160.83 606.73,158.98 609.81,157.13 612.88,155.26 615.96,153.39 619.04,151.52 622.12,149.63 625.20,147.74 628.27,145.84 631.35,143.94 634.43,142.02 637.51,140.10 640.59,138.17 643.66,136.23 646.74,134.28 649.82,132.33 652.90,130.37 655.98,128.40 659.05,126.42 662.13,124.43 665.21,122.43 668.29,120.43 671.36,118.41 674.44,116.39 677.52,114.36 680.60,112.32 683.68,110.27 686.75,108.21 689.83,106.14 692.91,104.07 695.99,101.98 699.07,99.88 702.14,97.78 705.22,95.66 708.30,93.54 711.38,91.40 714.45,89.26 717.53,87.10 720.61,84.93 723.69,82.76 726.77,80.57 729.84,78.38 732.92,76.17 736.00,73.95"/>
</g>
<g fill="none" stroke-width="2.35">
<line x1="577.7" y1="317.00" x2="666.5" y2="317.00" stroke="#ff0000"/>
<line x1="577.7" y1="337.60" x2="666.5" y2="337.60" stroke="#ff1200"/>
<line x1="577.7" y1="358.20" x2="666.5" y2="358.20" stroke="#ffa000"/>
<line x1="577.7" y1="378.80" x2="666.5" y2="378.80" stroke="#e0ff00"/>
<line x1="577.7" y1="399.40" x2="666.5" y2="399.40" stroke="#58ff00"/>
<line x1="577.7" y1="420.00" x2="666.5" y2="420.00" stroke="#00ff18"/>
<line x1="577.7" y1="440.60" x2="666.5" y2="440.60" stroke="#00fb92"/>
<line x1="577.7" y1="461.20" x2="666.5" y2="461.20" stroke="#00d8ff"/>
<line x1="577.7" y1="481.80" x2="666.5" y2="481.80" stroke="#0058ff"/>
<line x1="577.7" y1="502.40" x2="666.5" y2="502.40" stroke="#2400f0"/>
</g>
</svg>
</body></html>
